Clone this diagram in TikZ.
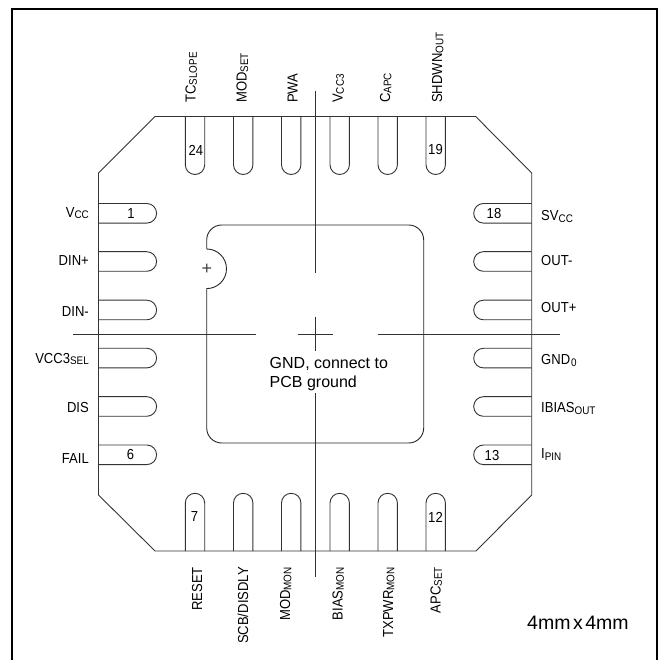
\documentclass[tikz,border=0pt]{standalone}
\usepackage{fontspec}
\setmainfont{Liberation Sans}
\newfontfamily\narrow[FakeStretch=0.9]{Liberation Sans}
\newcommand{\sbs}[1]{\raisebox{-1.3pt}{\fontsize{11}{11}\selectfont #1}}
\tikzset{
  x=1pt,y=-1pt,
  pkg/.style={draw=black!80,line width=0.9pt,line join=miter},
  pinout/.style={draw=black!80,line width=0.9pt},
  pad/.style={draw=black!85,line width=0.9pt},
  axis/.style={draw=black!80,line width=0.8pt},
  frame/.style={draw=black,line width=2.5pt},
  lab/.style={font=\narrow\fontsize{14.5}{14.5}\selectfont,inner sep=0pt,text=black},
  num/.style={font=\narrow\fontsize{14.5}{14.5}\selectfont,inner sep=0pt,text=black},
  txt/.style={font=\fontsize{16}{19}\selectfont,inner sep=0pt,text=black,align=left},
}
\begin{document}
\begin{tikzpicture}
\useasboundingbox (0,0) rectangle (662,660);
% frame
\draw[frame] (12,665) -- (12,9) -- (657,9) -- (657,665);
% package outline
\draw[pkg] (155,116.5) -- (475.7,116.5) -- (531.7,173) -- (531.7,495) -- (476,551) -- (155,551) -- (98.5,495) -- (98.5,173) -- cycle;
% top & bottom pins
\foreach \a in {185.3,233.5,281.5,330,378,426}{
  \pgfmathsetmacro{\b}{\a+19.4}
  \draw[pinout] (\a,116.5) -- (\a,164.8) arc[start angle=180,end angle=0,radius=9.7] -- (\b,116.5);
  \draw[pinout] (\a,551) -- (\a,503) arc[start angle=180,end angle=360,radius=9.7] -- (\b,551);
}
% left & right pins
\foreach \a in {203.5,251.7,300.2,348.3,396.7,445}{
  \pgfmathsetmacro{\b}{\a+19.6}
  \draw[pinout] (98.5,\a) -- (146.8,\a) arc[start angle=-90,end angle=90,radius=9.8] -- (98.5,\b);
  \draw[pinout] (531.7,\a) -- (483.5,\a) arc[start angle=270,end angle=90,radius=9.8] -- (531.7,\b);
}
% exposed pad
\draw[pad] (206.7,249) -- (206.7,240) arc[start angle=180,end angle=270,radius=15] -- (408.7,225)
  arc[start angle=270,end angle=360,radius=15] -- (423.7,428) arc[start angle=0,end angle=90,radius=15]
  -- (221.7,443) arc[start angle=90,end angle=180,radius=15] -- (206.7,288.6)
  arc[start angle=90,end angle=-90,radius=19.8];
\node[inner sep=0pt,font=\fontsize{18}{18}\selectfont,text=black!75] (plus) at (207,269.5) {+};
% centre lines
\draw[axis] (315,91) -- (315,273.5);
\draw[axis] (315,316.6) -- (315,351);
\draw[axis] (315,393) -- (315,576.7);
\draw[axis] (73,334) -- (255.5,334);
\draw[axis] (297.6,334) -- (333,334);
\draw[axis] (377.7,334) -- (560,334);
% pad text
\node[txt,anchor=base west] (gnd) at (269.5,387.3) {GND, connect to\\PCB ground};
\node[anchor=base west,inner sep=0pt,font=\fontsize{19.5}{19.5}\selectfont,text=black] (size) at (527,629) {4mm\hspace{2.5pt}x\hspace{2.5pt}4mm};
% pin numbers
\node[num] (n1) at (131,214) {1};
\node[num] (n6) at (130.5,455) {6};
\node[num] (n7) at (194.5,517) {7};
\node[num] (n12) at (435.5,517) {12};
\node[num] (n13) at (492,456) {13};
\node[num] (n18) at (494,214) {18};
\node[num] (n19) at (435.5,150) {19};
\node[num] (n24) at (196,150.5) {24};
% left labels
\node[lab,anchor=base east] (l1) at (89,217.7) {V\sbs{CC}};
\node[lab,anchor=base east] (l2) at (89,266) {DIN+};
\node[lab,anchor=base east] (l3) at (89,316.7) {DIN-};
\node[lab,anchor=base east] (l4) at (89,363.3) {VCC3\sbs{SEL}};
\node[lab,anchor=base east] (l5) at (89,412.7) {DIS};
\node[lab,anchor=base east] (l6) at (89,464) {FAIL};
% right labels
\node[lab,anchor=base west] (r18) at (541,221) {SV\sbs{CC}};
\node[lab,anchor=base west] (r17) at (541,265.7) {OUT-};
\node[lab,anchor=base west] (r16) at (541,312.3) {OUT+};
\node[lab,anchor=base west] (r15) at (541,365) {GND\hspace{1pt}\sbs{0}};
\node[lab,anchor=base west] (r14) at (541,413) {IBIAS\sbs{OUT}};
\node[lab,anchor=base west] (r13) at (541,459) {I\sbs{PIN}};
% top labels
\node[lab,rotate=90,anchor=base west] (t24) at (195.5,103) {TC\sbs{SLOPE}};
\node[lab,rotate=90,anchor=base west] (t23) at (246.7,103) {MOD\sbs{SET}};
\node[lab,rotate=90,anchor=base west] (t22) at (297.5,103) {PWA};
\node[lab,rotate=90,anchor=base west] (t21) at (342.5,103) {V\sbs{CC3}};
\node[lab,rotate=90,anchor=base west] (t20) at (390,103) {C\sbs{APC}};
\node[lab,rotate=90,anchor=base west] (t19) at (442,103) {SHDWN\sbs{OUT}};
% bottom labels
\node[lab,rotate=90,anchor=base east] (b7) at (202,567) {RESET};
\node[lab,rotate=90,anchor=base east] (b8) at (248,567) {SCB/DISDLY};
\node[lab,rotate=90,anchor=base east] (b9) at (290,567) {MOD\sbs{MON}};
\node[lab,rotate=90,anchor=base east] (b10) at (342.5,567) {BIAS\sbs{MON}};
\node[lab,rotate=90,anchor=base east] (b11) at (393,567) {TXPWR\sbs{MON}};
\node[lab,rotate=90,anchor=base east] (b12) at (440.5,567) {APC\sbs{SET}};
\end{tikzpicture}
\end{document}
